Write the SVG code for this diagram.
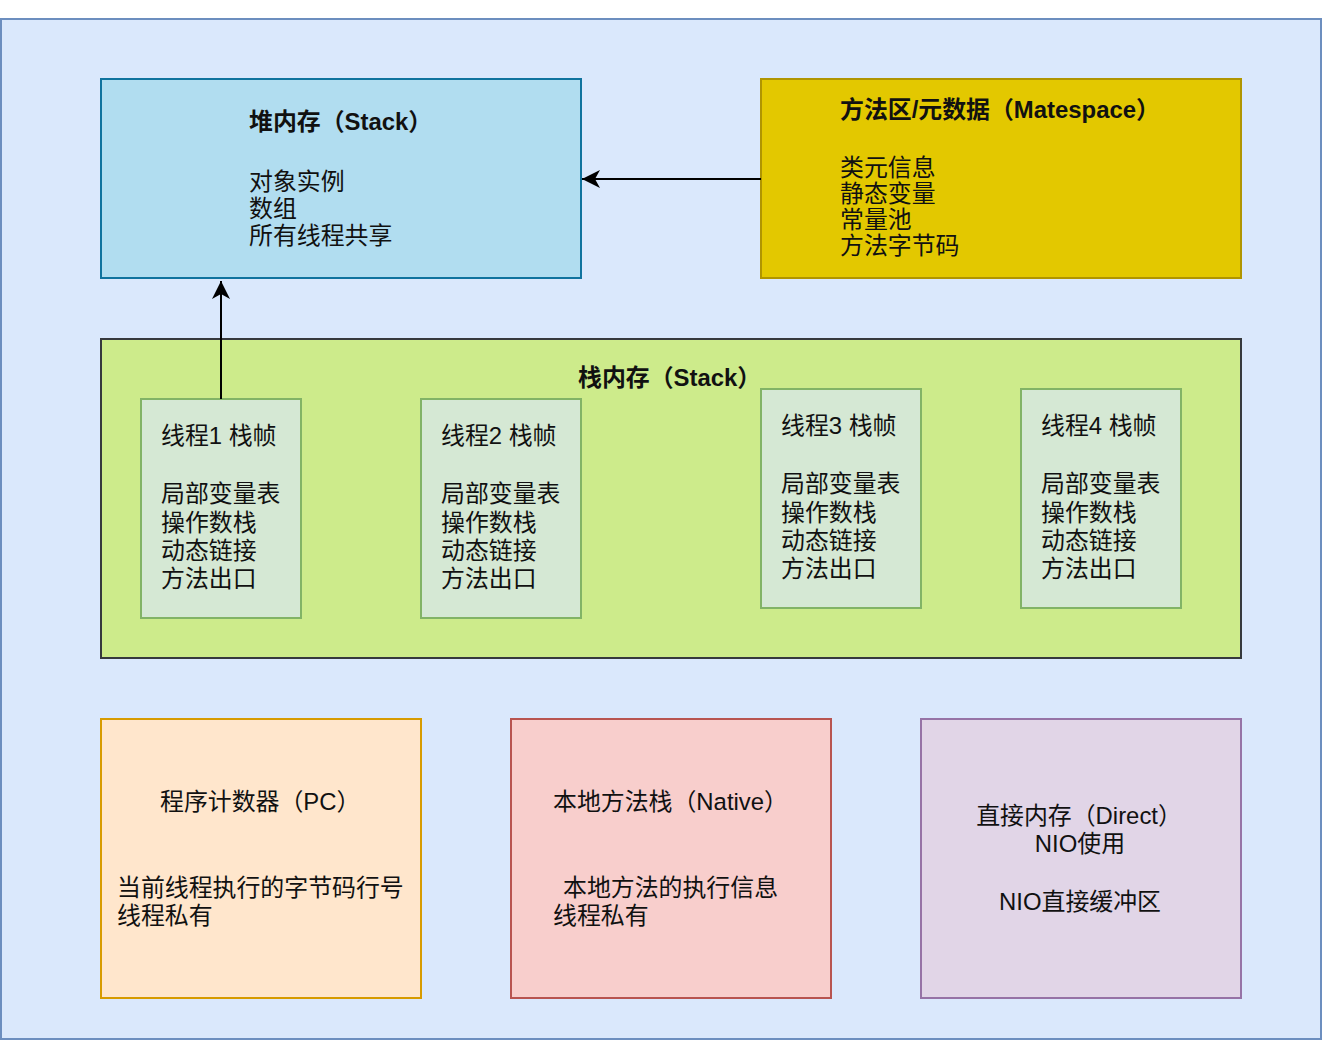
<svg xmlns="http://www.w3.org/2000/svg" width="1322" height="1040" viewBox="0 0 1322 1040">
<style>
text{font-family:"Liberation Sans","Noto Sans CJK SC",sans-serif;font-size:23.9px;fill:#111}
.b{font-weight:bold}
.m{text-anchor:middle}
.box{stroke-width:2}
.frame{fill:#d5e8d4;stroke:#82b366;stroke-width:2}
.conn{fill:none;stroke:#000;stroke-width:2}
</style>
<defs>
<marker id="arr" markerUnits="userSpaceOnUse" viewBox="-20 -10 22 20" refX="0" refY="0" markerWidth="22" markerHeight="20" orient="auto">
<path d="M0,0 L-18,-9 L-13,0 L-18,9 Z" fill="#000"/>
</marker>
</defs>
<rect id="bg" x="1" y="19" width="1320" height="1020" fill="#dae8fc" stroke="#6c8ebf" stroke-width="2"/>
<g id="heap">
<rect class="box" x="101" y="79" width="480" height="199" fill="#b1ddf0" stroke="#10739e"/>
<text class="b" x="249" y="130">堆内存（Stack）</text>
<text x="249" y="190">对象实例</text>
<text x="249" y="217">数组</text>
<text x="249" y="244">所有线程共享</text>
</g>
<g id="method">
<rect class="box" x="761" y="79" width="480" height="199" fill="#e3c800" stroke="#b09500"/>
<text class="b" x="840" y="118">方法区/元数据（Matespace）</text>
<text x="840" y="176">类元信息</text>
<text x="840" y="202">静态变量</text>
<text x="840" y="228">常量池</text>
<text x="840" y="254">方法字节码</text>
</g>
<g id="stack">
<rect class="box" x="101" y="339" width="1140" height="319" fill="#cdeb8b" stroke="#36393d"/>
<text class="b" x="578" y="386">栈内存（Stack）</text>
</g>
<g id="t1">
<rect class="frame" x="141" y="399" width="160" height="219"/>
<text x="161" y="444">线程1 栈帧</text>
<text x="161" y="502">局部变量表</text>
<text x="161" y="531">操作数栈</text>
<text x="161" y="559">动态链接</text>
<text x="161" y="587">方法出口</text>
</g>
<g id="t2">
<rect class="frame" x="421" y="399" width="160" height="219"/>
<text x="441" y="444">线程2 栈帧</text>
<text x="441" y="502">局部变量表</text>
<text x="441" y="531">操作数栈</text>
<text x="441" y="559">动态链接</text>
<text x="441" y="587">方法出口</text>
</g>
<g id="t3">
<rect class="frame" x="761" y="389" width="160" height="219"/>
<text x="781" y="434">线程3 栈帧</text>
<text x="781" y="492">局部变量表</text>
<text x="781" y="521">操作数栈</text>
<text x="781" y="549">动态链接</text>
<text x="781" y="577">方法出口</text>
</g>
<g id="t4">
<rect class="frame" x="1021" y="389" width="160" height="219"/>
<text x="1041" y="434">线程4 栈帧</text>
<text x="1041" y="492">局部变量表</text>
<text x="1041" y="521">操作数栈</text>
<text x="1041" y="549">动态链接</text>
<text x="1041" y="577">方法出口</text>
</g>
<g id="pc">
<rect class="box" x="101" y="719" width="320" height="279" fill="#ffe6cc" stroke="#d79b00"/>
<text x="160" y="810">程序计数器（PC）</text>
<text x="117" y="896">当前线程执行的字节码行号</text>
<text x="117" y="924">线程私有</text>
</g>
<g id="native">
<rect class="box" x="511" y="719" width="320" height="279" fill="#f8cecc" stroke="#b85450"/>
<text x="553" y="810">本地方法栈（Native）</text>
<text x="563" y="896">本地方法的执行信息</text>
<text x="553" y="924">线程私有</text>
</g>
<g id="direct">
<rect class="box" x="921" y="719" width="320" height="279" fill="#e1d5e7" stroke="#9673a6"/>
<text class="m" x="1079" y="824">直接内存（Direct）</text>
<text class="m" x="1080" y="852">NIO使用</text>
<text class="m" x="1080" y="910">NIO直接缓冲区</text>
</g>
<g id="connectors">
<path class="conn" d="M221,399 L221,281" marker-end="url(#arr)"/>
<path class="conn" d="M761,179 L582,179" marker-end="url(#arr)"/>
</g>
</svg>
